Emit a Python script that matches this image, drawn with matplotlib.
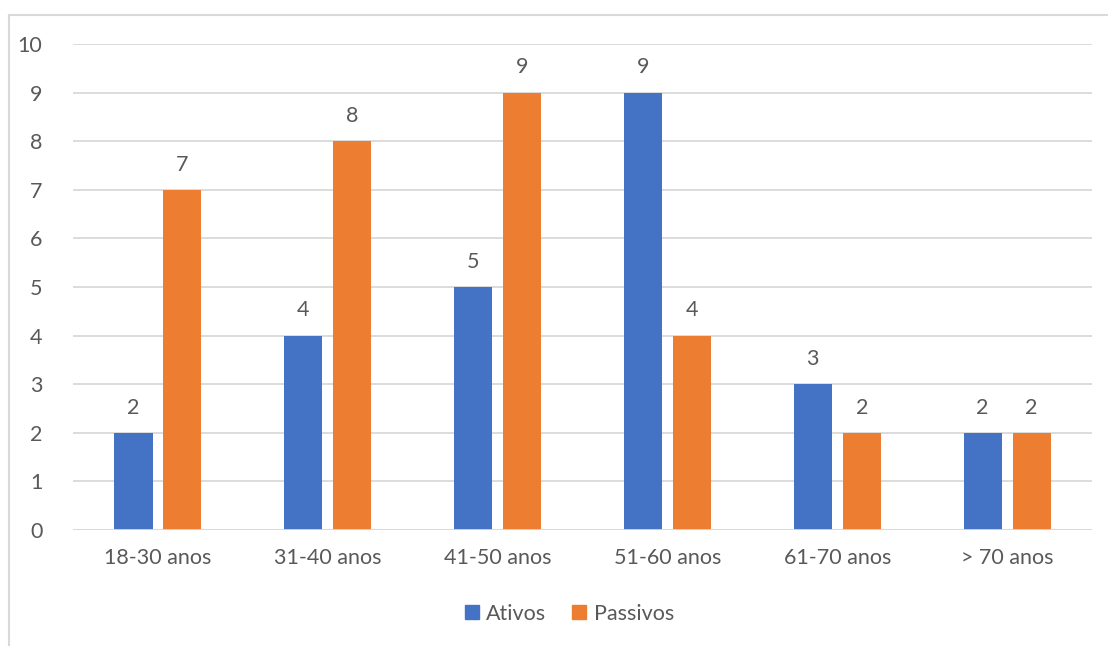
import numpy as np
import matplotlib.pyplot as plt
from matplotlib.lines import Line2D
from matplotlib.patches import Patch

# Faixas etárias e contagens por grupo
faixas = ['18-30 anos', '31-40 anos', '41-50 anos', '51-60 anos', '61-70 anos', '> 70 anos']
ativos = [2, 4, 5, 9, 3, 2]
passivos = [7, 8, 9, 4, 2, 2]

azul = '#4472C4'
laranja = '#ED7D31'
cinza_txt = '#595959'
cinza_grade = '#D9D9D9'

plt.rcParams['font.family'] = ['Lato', 'DejaVu Sans']
tam = 15.5

fig = plt.figure(figsize=(11.08, 6.46), dpi=100)
ax = fig.add_axes([0.0659, 0.1796, 0.9197, 0.7523])

x = np.arange(len(faixas))
larg = 0.224
desl = 0.144

b1 = ax.bar(x - desl, ativos, larg, color=azul, zorder=3)
b2 = ax.bar(x + desl, passivos, larg, color=laranja, zorder=3)

for barras in (b1, b2):
    for b in barras:
        h = b.get_height()
        ax.annotate(f'{h:g}', (b.get_x() + b.get_width() / 2, h),
                    xytext=(0, 11), textcoords='offset points',
                    ha='center', va='bottom', fontsize=tam, color=cinza_txt)

ax.set_xlim(-0.5, len(faixas) - 0.5)
ax.set_ylim(0, 10)
ax.set_yticks(range(0, 11))
ax.set_xticks(x)
ax.set_xticklabels(faixas)
ax.yaxis.grid(True, color=cinza_grade, linewidth=1.3, zorder=0)
ax.tick_params(axis='both', length=0, labelsize=tam, labelcolor=cinza_txt)
ax.tick_params(axis='y', pad=22)
ax.tick_params(axis='x', pad=13)
for s in ax.spines.values():
    s.set_visible(False)
ax.axhline(0, color=cinza_grade, linewidth=1.3, zorder=4)

leg = fig.legend(handles=[Patch(color=azul, label='Ativos'), Patch(color=laranja, label='Passivos')],
                 loc='center', bbox_to_anchor=(0.514, 0.05), ncol=2, frameon=False,
                 fontsize=tam, handlelength=0.65, handleheight=0.65, handletextpad=0.35,
                 columnspacing=1.2)
for t in leg.get_texts():
    t.set_color(cinza_txt)

# moldura da área do gráfico (topo e lado esquerdo)
fig.add_artist(Line2D([9 / 1108, 1.0], [1 - 15 / 646] * 2, transform=fig.transFigure,
                      color=cinza_grade, linewidth=1.5))
fig.add_artist(Line2D([9 / 1108] * 2, [0.0, 1 - 15 / 646], transform=fig.transFigure,
                      color=cinza_grade, linewidth=1.5))

fig.savefig('out.png', dpi=100)
